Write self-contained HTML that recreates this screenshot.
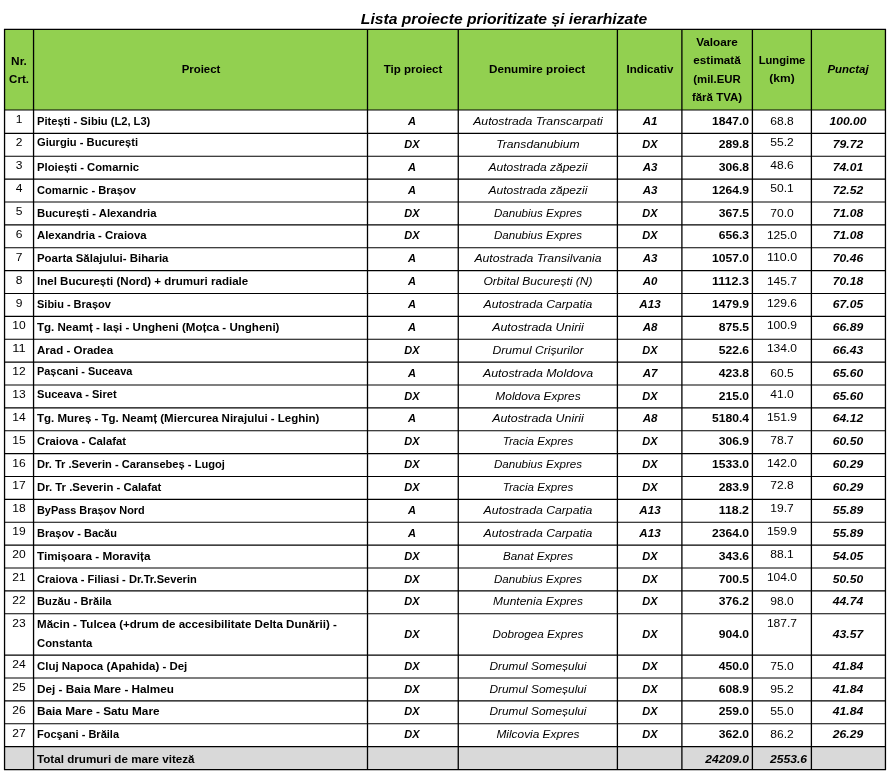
<!DOCTYPE html>
<html><head><meta charset="utf-8"><title>Lista proiecte prioritizate și ierarhizate</title>
<style>
html,body{margin:0;padding:0;background:#fff;}
body{width:891px;height:778px;position:relative;overflow:hidden;font-family:"Liberation Sans",sans-serif;color:#000;}
#g{position:absolute;left:0;top:0;}
#tx{position:absolute;left:0;top:0;width:891px;height:778px;will-change:transform;}
.t{position:absolute;white-space:nowrap;line-height:14px;height:14px;font-size:11.6px;}
.l{transform-origin:0 50%;}
.c{transform-origin:50% 50%;text-align:center;}
.r{transform-origin:100% 50%;text-align:right;}
.b{font-weight:bold;}
.i{font-style:italic;}
.bi{font-weight:bold;font-style:italic;}
.h{font-weight:bold;}
</style></head><body>

<svg id="g" width="891" height="778" viewBox="0 0 891 778">
<rect x="4.55" y="29.40" width="880.90" height="80.60" fill="#92d050"/>
<rect x="4.55" y="746.55" width="880.90" height="22.90" fill="#d9d9d9"/>
<g stroke="#000" stroke-width="1.3" fill="none">
<line x1="4.55" y1="28.90" x2="4.55" y2="769.95"/>
<line x1="33.55" y1="28.90" x2="33.55" y2="769.95"/>
<line x1="367.50" y1="28.90" x2="367.50" y2="769.95"/>
<line x1="458.25" y1="28.90" x2="458.25" y2="769.95"/>
<line x1="617.40" y1="28.90" x2="617.40" y2="769.95"/>
<line x1="681.90" y1="28.90" x2="681.90" y2="769.95"/>
<line x1="752.40" y1="28.90" x2="752.40" y2="769.95"/>
<line x1="811.40" y1="28.90" x2="811.40" y2="769.95"/>
<line x1="885.45" y1="28.90" x2="885.45" y2="769.95"/>
</g><g stroke="#000" stroke-width="1.15" fill="none">
<line x1="4.05" y1="29.40" x2="885.95" y2="29.40"/>
<line x1="4.05" y1="110.00" x2="885.95" y2="110.00"/>
<line x1="4.05" y1="133.39" x2="885.95" y2="133.39"/>
<line x1="4.05" y1="156.27" x2="885.95" y2="156.27"/>
<line x1="4.05" y1="179.14" x2="885.95" y2="179.14"/>
<line x1="4.05" y1="202.01" x2="885.95" y2="202.01"/>
<line x1="4.05" y1="224.89" x2="885.95" y2="224.89"/>
<line x1="4.05" y1="247.76" x2="885.95" y2="247.76"/>
<line x1="4.05" y1="270.63" x2="885.95" y2="270.63"/>
<line x1="4.05" y1="293.50" x2="885.95" y2="293.50"/>
<line x1="4.05" y1="316.38" x2="885.95" y2="316.38"/>
<line x1="4.05" y1="339.25" x2="885.95" y2="339.25"/>
<line x1="4.05" y1="362.12" x2="885.95" y2="362.12"/>
<line x1="4.05" y1="385.00" x2="885.95" y2="385.00"/>
<line x1="4.05" y1="407.87" x2="885.95" y2="407.87"/>
<line x1="4.05" y1="430.74" x2="885.95" y2="430.74"/>
<line x1="4.05" y1="453.62" x2="885.95" y2="453.62"/>
<line x1="4.05" y1="476.49" x2="885.95" y2="476.49"/>
<line x1="4.05" y1="499.36" x2="885.95" y2="499.36"/>
<line x1="4.05" y1="522.23" x2="885.95" y2="522.23"/>
<line x1="4.05" y1="545.11" x2="885.95" y2="545.11"/>
<line x1="4.05" y1="567.98" x2="885.95" y2="567.98"/>
<line x1="4.05" y1="590.85" x2="885.95" y2="590.85"/>
<line x1="4.05" y1="613.73" x2="885.95" y2="613.73"/>
<line x1="4.05" y1="655.05" x2="885.95" y2="655.05"/>
<line x1="4.05" y1="677.95" x2="885.95" y2="677.95"/>
<line x1="4.05" y1="700.85" x2="885.95" y2="700.85"/>
<line x1="4.05" y1="723.75" x2="885.95" y2="723.75"/>
<line x1="4.05" y1="746.65" x2="885.95" y2="746.65"/>
<line x1="4.05" y1="769.55" x2="885.95" y2="769.55"/>
</g></svg>
<div id="tx">
<div class="t c bi" style="top:8.00px;font-size:15.40px;left:304.30px;width:400px;transform:scaleX(1.0174);line-height:21px;height:21px;">Lista proiecte prioritizate și ierarhizate</div>
<div class="t c b" style="top:54.00px;left:-180.95px;width:400px;transform:scaleX(1.0195);">Nr.</div>
<div class="t c b" style="top:72.00px;left:-180.95px;width:400px;transform:scaleX(0.9917);">Crt.</div>
<div class="t c b" style="top:62.00px;left:0.83px;width:400px;transform:scaleX(0.9840);">Proiect</div>
<div class="t c b" style="top:62.00px;left:213.07px;width:400px;transform:scaleX(0.9924);">Tip proiect</div>
<div class="t c b" style="top:62.00px;left:337.43px;width:400px;transform:scaleX(1.0076);">Denumire proiect</div>
<div class="t c b" style="top:62.00px;left:449.65px;width:400px;transform:scaleX(0.9948);">Indicativ</div>
<div class="t c b" style="top:35.00px;left:517.15px;width:400px;transform:scaleX(1.0103);">Valoare</div>
<div class="t c b" style="top:53.00px;left:517.15px;width:400px;transform:scaleX(1.0125);">estimată</div>
<div class="t c b" style="top:72.00px;left:517.15px;width:400px;transform:scaleX(0.9810);">(mil.EUR</div>
<div class="t c b" style="top:90.00px;left:517.15px;width:400px;transform:scaleX(0.9902);">fără TVA)</div>
<div class="t c b" style="top:53.00px;left:581.90px;width:400px;transform:scaleX(0.9663);">Lungime</div>
<div class="t c b" style="top:71.00px;left:581.90px;width:400px;transform:scaleX(1.0345);">(km)</div>
<div class="t c bi" style="top:62.00px;left:648.12px;width:400px;transform:scaleX(0.9833);">Punctaj</div>
<div class="t c n" style="top:112.00px;left:-180.95px;width:400px;transform:scaleX(1.0386);">1</div>
<div class="t l b" style="top:114.00px;left:36.60px;transform:scaleX(0.9613);">Pitești - Sibiu (L2, L3)</div>
<div class="t c bi" style="top:114.00px;left:212.38px;width:400px;transform:scaleX(0.9563);">A</div>
<div class="t c i" style="top:114.00px;left:337.62px;width:400px;transform:scaleX(1.0544);">Autostrada Transcarpati</div>
<div class="t c bi" style="top:114.00px;left:449.60px;width:400px;transform:scaleX(0.9921);">A1</div>
<div class="t r b" style="top:114.00px;left:349.00px;width:400px;transform:scaleX(1.0438);">1847.0</div>
<div class="t c n" style="top:114.00px;left:581.70px;width:400px;transform:scaleX(1.0382);">68.8</div>
<div class="t c bi" style="top:114.00px;left:648.12px;width:400px;transform:scaleX(1.0438);">100.00</div>
<div class="t c n" style="top:135.00px;left:-180.95px;width:400px;transform:scaleX(1.0386);">2</div>
<div class="t l b" style="top:135.00px;left:36.60px;transform:scaleX(0.9628);">Giurgiu - București</div>
<div class="t c bi" style="top:137.00px;left:212.38px;width:400px;transform:scaleX(0.9486);">DX</div>
<div class="t c i" style="top:137.00px;left:337.62px;width:400px;transform:scaleX(1.0453);">Transdanubium</div>
<div class="t c bi" style="top:137.00px;left:449.60px;width:400px;transform:scaleX(0.9486);">DX</div>
<div class="t r b" style="top:137.00px;left:349.00px;width:400px;transform:scaleX(1.0449);">289.8</div>
<div class="t c n" style="top:135.00px;left:581.70px;width:400px;transform:scaleX(1.0382);">55.2</div>
<div class="t c bi" style="top:137.00px;left:648.12px;width:400px;transform:scaleX(1.0449);">79.72</div>
<div class="t c n" style="top:158.00px;left:-180.95px;width:400px;transform:scaleX(1.0386);">3</div>
<div class="t l b" style="top:160.00px;left:36.60px;transform:scaleX(0.9721);">Ploiești - Comarnic</div>
<div class="t c bi" style="top:160.00px;left:212.38px;width:400px;transform:scaleX(0.9563);">A</div>
<div class="t c i" style="top:160.00px;left:337.62px;width:400px;transform:scaleX(1.0360);">Autostrada zăpezii</div>
<div class="t c bi" style="top:160.00px;left:449.60px;width:400px;transform:scaleX(0.9921);">A3</div>
<div class="t r b" style="top:160.00px;left:349.00px;width:400px;transform:scaleX(1.0449);">306.8</div>
<div class="t c n" style="top:158.00px;left:581.70px;width:400px;transform:scaleX(1.0382);">48.6</div>
<div class="t c bi" style="top:160.00px;left:648.12px;width:400px;transform:scaleX(1.0449);">74.01</div>
<div class="t c n" style="top:181.00px;left:-180.95px;width:400px;transform:scaleX(1.0386);">4</div>
<div class="t l b" style="top:183.00px;left:36.60px;transform:scaleX(0.9591);">Comarnic - Brașov</div>
<div class="t c bi" style="top:183.00px;left:212.38px;width:400px;transform:scaleX(0.9563);">A</div>
<div class="t c i" style="top:183.00px;left:337.62px;width:400px;transform:scaleX(1.0360);">Autostrada zăpezii</div>
<div class="t c bi" style="top:183.00px;left:449.60px;width:400px;transform:scaleX(0.9921);">A3</div>
<div class="t r b" style="top:183.00px;left:349.00px;width:400px;transform:scaleX(1.0438);">1264.9</div>
<div class="t c n" style="top:181.00px;left:581.70px;width:400px;transform:scaleX(1.0382);">50.1</div>
<div class="t c bi" style="top:183.00px;left:648.12px;width:400px;transform:scaleX(1.0449);">72.52</div>
<div class="t c n" style="top:204.00px;left:-180.95px;width:400px;transform:scaleX(1.0386);">5</div>
<div class="t l b" style="top:206.00px;left:36.60px;transform:scaleX(0.9745);">București - Alexandria</div>
<div class="t c bi" style="top:206.00px;left:212.38px;width:400px;transform:scaleX(0.9486);">DX</div>
<div class="t c i" style="top:206.00px;left:337.62px;width:400px;transform:scaleX(0.9991);">Danubius Expres</div>
<div class="t c bi" style="top:206.00px;left:449.60px;width:400px;transform:scaleX(0.9486);">DX</div>
<div class="t r b" style="top:206.00px;left:349.00px;width:400px;transform:scaleX(1.0449);">367.5</div>
<div class="t c n" style="top:206.00px;left:581.70px;width:400px;transform:scaleX(1.0382);">70.0</div>
<div class="t c bi" style="top:206.00px;left:648.12px;width:400px;transform:scaleX(1.0449);">71.08</div>
<div class="t c n" style="top:227.00px;left:-180.95px;width:400px;transform:scaleX(1.0386);">6</div>
<div class="t l b" style="top:228.00px;left:36.60px;transform:scaleX(0.9772);">Alexandria - Craiova</div>
<div class="t c bi" style="top:228.00px;left:212.38px;width:400px;transform:scaleX(0.9486);">DX</div>
<div class="t c i" style="top:228.00px;left:337.62px;width:400px;transform:scaleX(0.9991);">Danubius Expres</div>
<div class="t c bi" style="top:228.00px;left:449.60px;width:400px;transform:scaleX(0.9486);">DX</div>
<div class="t r b" style="top:228.00px;left:349.00px;width:400px;transform:scaleX(1.0449);">656.3</div>
<div class="t c n" style="top:228.00px;left:581.70px;width:400px;transform:scaleX(1.0383);">125.0</div>
<div class="t c bi" style="top:228.00px;left:648.12px;width:400px;transform:scaleX(1.0449);">71.08</div>
<div class="t c n" style="top:250.00px;left:-180.95px;width:400px;transform:scaleX(1.0386);">7</div>
<div class="t l b" style="top:251.00px;left:36.60px;transform:scaleX(0.9856);">Poarta Sălajului- Biharia</div>
<div class="t c bi" style="top:251.00px;left:212.38px;width:400px;transform:scaleX(0.9563);">A</div>
<div class="t c i" style="top:251.00px;left:337.62px;width:400px;transform:scaleX(1.0521);">Autostrada Transilvania</div>
<div class="t c bi" style="top:251.00px;left:449.60px;width:400px;transform:scaleX(0.9921);">A3</div>
<div class="t r b" style="top:251.00px;left:349.00px;width:400px;transform:scaleX(1.0438);">1057.0</div>
<div class="t c n" style="top:250.00px;left:581.70px;width:400px;transform:scaleX(1.0700);">110.0</div>
<div class="t c bi" style="top:251.00px;left:648.12px;width:400px;transform:scaleX(1.0449);">70.46</div>
<div class="t c n" style="top:273.00px;left:-180.95px;width:400px;transform:scaleX(1.0386);">8</div>
<div class="t l b" style="top:274.00px;left:36.60px;transform:scaleX(0.9950);">Inel București (Nord) + drumuri radiale</div>
<div class="t c bi" style="top:274.00px;left:212.38px;width:400px;transform:scaleX(0.9563);">A</div>
<div class="t c i" style="top:274.00px;left:337.62px;width:400px;transform:scaleX(1.0383);">Orbital București (N)</div>
<div class="t c bi" style="top:274.00px;left:449.60px;width:400px;transform:scaleX(0.9921);">A0</div>
<div class="t r b" style="top:274.00px;left:349.00px;width:400px;transform:scaleX(1.0828);">1112.3</div>
<div class="t c n" style="top:274.00px;left:581.70px;width:400px;transform:scaleX(1.0383);">145.7</div>
<div class="t c bi" style="top:274.00px;left:648.12px;width:400px;transform:scaleX(1.0449);">70.18</div>
<div class="t c n" style="top:296.00px;left:-180.95px;width:400px;transform:scaleX(1.0386);">9</div>
<div class="t l b" style="top:297.00px;left:36.60px;transform:scaleX(0.9475);">Sibiu - Brașov</div>
<div class="t c bi" style="top:297.00px;left:212.38px;width:400px;transform:scaleX(0.9563);">A</div>
<div class="t c i" style="top:297.00px;left:337.62px;width:400px;transform:scaleX(1.0548);">Autostrada Carpatia</div>
<div class="t c bi" style="top:297.00px;left:449.60px;width:400px;transform:scaleX(1.0062);">A13</div>
<div class="t r b" style="top:297.00px;left:349.00px;width:400px;transform:scaleX(1.0438);">1479.9</div>
<div class="t c n" style="top:296.00px;left:581.70px;width:400px;transform:scaleX(1.0383);">129.6</div>
<div class="t c bi" style="top:297.00px;left:648.12px;width:400px;transform:scaleX(1.0449);">67.05</div>
<div class="t c n" style="top:318.00px;left:-180.95px;width:400px;transform:scaleX(1.0386);">10</div>
<div class="t l b" style="top:320.00px;left:36.60px;transform:scaleX(0.9958);">Tg. Neamț - Iași - Ungheni (Moțca - Ungheni)</div>
<div class="t c bi" style="top:320.00px;left:212.38px;width:400px;transform:scaleX(0.9563);">A</div>
<div class="t c i" style="top:320.00px;left:337.62px;width:400px;transform:scaleX(1.0699);">Autostrada Unirii</div>
<div class="t c bi" style="top:320.00px;left:449.60px;width:400px;transform:scaleX(0.9921);">A8</div>
<div class="t r b" style="top:320.00px;left:349.00px;width:400px;transform:scaleX(1.0449);">875.5</div>
<div class="t c n" style="top:318.00px;left:581.70px;width:400px;transform:scaleX(1.0383);">100.9</div>
<div class="t c bi" style="top:320.00px;left:648.12px;width:400px;transform:scaleX(1.0449);">66.89</div>
<div class="t c n" style="top:341.00px;left:-180.95px;width:400px;transform:scaleX(1.1129);">11</div>
<div class="t l b" style="top:343.00px;left:36.60px;transform:scaleX(0.9935);">Arad - Oradea</div>
<div class="t c bi" style="top:343.00px;left:212.38px;width:400px;transform:scaleX(0.9486);">DX</div>
<div class="t c i" style="top:343.00px;left:337.62px;width:400px;transform:scaleX(1.0467);">Drumul Crișurilor</div>
<div class="t c bi" style="top:343.00px;left:449.60px;width:400px;transform:scaleX(0.9486);">DX</div>
<div class="t r b" style="top:343.00px;left:349.00px;width:400px;transform:scaleX(1.0449);">522.6</div>
<div class="t c n" style="top:341.00px;left:581.70px;width:400px;transform:scaleX(1.0383);">134.0</div>
<div class="t c bi" style="top:343.00px;left:648.12px;width:400px;transform:scaleX(1.0449);">66.43</div>
<div class="t c n" style="top:364.00px;left:-180.95px;width:400px;transform:scaleX(1.0386);">12</div>
<div class="t l b" style="top:364.00px;left:36.60px;transform:scaleX(0.9421);">Pașcani - Suceava</div>
<div class="t c bi" style="top:366.00px;left:212.38px;width:400px;transform:scaleX(0.9563);">A</div>
<div class="t c i" style="top:366.00px;left:337.62px;width:400px;transform:scaleX(1.0678);">Autostrada Moldova</div>
<div class="t c bi" style="top:366.00px;left:449.60px;width:400px;transform:scaleX(0.9921);">A7</div>
<div class="t r b" style="top:366.00px;left:349.00px;width:400px;transform:scaleX(1.0449);">423.8</div>
<div class="t c n" style="top:366.00px;left:581.70px;width:400px;transform:scaleX(1.0382);">60.5</div>
<div class="t c bi" style="top:366.00px;left:648.12px;width:400px;transform:scaleX(1.0449);">65.60</div>
<div class="t c n" style="top:387.00px;left:-180.95px;width:400px;transform:scaleX(1.0386);">13</div>
<div class="t l b" style="top:387.00px;left:36.60px;transform:scaleX(0.9579);">Suceava - Siret</div>
<div class="t c bi" style="top:389.00px;left:212.38px;width:400px;transform:scaleX(0.9486);">DX</div>
<div class="t c i" style="top:389.00px;left:337.62px;width:400px;transform:scaleX(1.0255);">Moldova Expres</div>
<div class="t c bi" style="top:389.00px;left:449.60px;width:400px;transform:scaleX(0.9486);">DX</div>
<div class="t r b" style="top:389.00px;left:349.00px;width:400px;transform:scaleX(1.0449);">215.0</div>
<div class="t c n" style="top:387.00px;left:581.70px;width:400px;transform:scaleX(1.0382);">41.0</div>
<div class="t c bi" style="top:389.00px;left:648.12px;width:400px;transform:scaleX(1.0449);">65.60</div>
<div class="t c n" style="top:410.00px;left:-180.95px;width:400px;transform:scaleX(1.0386);">14</div>
<div class="t l b" style="top:411.00px;left:36.60px;transform:scaleX(0.9916);">Tg. Mureș - Tg. Neamț (Miercurea Nirajului - Leghin)</div>
<div class="t c bi" style="top:411.00px;left:212.38px;width:400px;transform:scaleX(0.9563);">A</div>
<div class="t c i" style="top:411.00px;left:337.62px;width:400px;transform:scaleX(1.0699);">Autostrada Unirii</div>
<div class="t c bi" style="top:411.00px;left:449.60px;width:400px;transform:scaleX(0.9921);">A8</div>
<div class="t r b" style="top:411.00px;left:349.00px;width:400px;transform:scaleX(1.0438);">5180.4</div>
<div class="t c n" style="top:410.00px;left:581.70px;width:400px;transform:scaleX(1.0383);">151.9</div>
<div class="t c bi" style="top:411.00px;left:648.12px;width:400px;transform:scaleX(1.0449);">64.12</div>
<div class="t c n" style="top:433.00px;left:-180.95px;width:400px;transform:scaleX(1.0386);">15</div>
<div class="t l b" style="top:434.00px;left:36.60px;transform:scaleX(0.9727);">Craiova - Calafat</div>
<div class="t c bi" style="top:434.00px;left:212.38px;width:400px;transform:scaleX(0.9486);">DX</div>
<div class="t c i" style="top:434.00px;left:337.62px;width:400px;transform:scaleX(0.9962);">Tracia Expres</div>
<div class="t c bi" style="top:434.00px;left:449.60px;width:400px;transform:scaleX(0.9486);">DX</div>
<div class="t r b" style="top:434.00px;left:349.00px;width:400px;transform:scaleX(1.0449);">306.9</div>
<div class="t c n" style="top:433.00px;left:581.70px;width:400px;transform:scaleX(1.0382);">78.7</div>
<div class="t c bi" style="top:434.00px;left:648.12px;width:400px;transform:scaleX(1.0449);">60.50</div>
<div class="t c n" style="top:456.00px;left:-180.95px;width:400px;transform:scaleX(1.0386);">16</div>
<div class="t l b" style="top:457.00px;left:36.60px;transform:scaleX(0.9593);">Dr. Tr .Severin - Caransebeș - Lugoj</div>
<div class="t c bi" style="top:457.00px;left:212.38px;width:400px;transform:scaleX(0.9486);">DX</div>
<div class="t c i" style="top:457.00px;left:337.62px;width:400px;transform:scaleX(0.9991);">Danubius Expres</div>
<div class="t c bi" style="top:457.00px;left:449.60px;width:400px;transform:scaleX(0.9486);">DX</div>
<div class="t r b" style="top:457.00px;left:349.00px;width:400px;transform:scaleX(1.0438);">1533.0</div>
<div class="t c n" style="top:456.00px;left:581.70px;width:400px;transform:scaleX(1.0383);">142.0</div>
<div class="t c bi" style="top:457.00px;left:648.12px;width:400px;transform:scaleX(1.0449);">60.29</div>
<div class="t c n" style="top:478.00px;left:-180.95px;width:400px;transform:scaleX(1.0386);">17</div>
<div class="t l b" style="top:480.00px;left:36.60px;transform:scaleX(0.9791);">Dr. Tr .Severin - Calafat</div>
<div class="t c bi" style="top:480.00px;left:212.38px;width:400px;transform:scaleX(0.9486);">DX</div>
<div class="t c i" style="top:480.00px;left:337.62px;width:400px;transform:scaleX(0.9962);">Tracia Expres</div>
<div class="t c bi" style="top:480.00px;left:449.60px;width:400px;transform:scaleX(0.9486);">DX</div>
<div class="t r b" style="top:480.00px;left:349.00px;width:400px;transform:scaleX(1.0449);">283.9</div>
<div class="t c n" style="top:478.00px;left:581.70px;width:400px;transform:scaleX(1.0382);">72.8</div>
<div class="t c bi" style="top:480.00px;left:648.12px;width:400px;transform:scaleX(1.0449);">60.29</div>
<div class="t c n" style="top:501.00px;left:-180.95px;width:400px;transform:scaleX(1.0386);">18</div>
<div class="t l b" style="top:503.00px;left:36.60px;transform:scaleX(0.9390);">ByPass Brașov Nord</div>
<div class="t c bi" style="top:503.00px;left:212.38px;width:400px;transform:scaleX(0.9563);">A</div>
<div class="t c i" style="top:503.00px;left:337.62px;width:400px;transform:scaleX(1.0548);">Autostrada Carpatia</div>
<div class="t c bi" style="top:503.00px;left:449.60px;width:400px;transform:scaleX(1.0062);">A13</div>
<div class="t r b" style="top:503.00px;left:349.00px;width:400px;transform:scaleX(1.0685);">118.2</div>
<div class="t c n" style="top:501.00px;left:581.70px;width:400px;transform:scaleX(1.0382);">19.7</div>
<div class="t c bi" style="top:503.00px;left:648.12px;width:400px;transform:scaleX(1.0449);">55.89</div>
<div class="t c n" style="top:524.00px;left:-180.95px;width:400px;transform:scaleX(1.0386);">19</div>
<div class="t l b" style="top:526.00px;left:36.60px;transform:scaleX(0.9470);">Brașov - Bacău</div>
<div class="t c bi" style="top:526.00px;left:212.38px;width:400px;transform:scaleX(0.9563);">A</div>
<div class="t c i" style="top:526.00px;left:337.62px;width:400px;transform:scaleX(1.0548);">Autostrada Carpatia</div>
<div class="t c bi" style="top:526.00px;left:449.60px;width:400px;transform:scaleX(1.0062);">A13</div>
<div class="t r b" style="top:526.00px;left:349.00px;width:400px;transform:scaleX(1.0438);">2364.0</div>
<div class="t c n" style="top:524.00px;left:581.70px;width:400px;transform:scaleX(1.0383);">159.9</div>
<div class="t c bi" style="top:526.00px;left:648.12px;width:400px;transform:scaleX(1.0449);">55.89</div>
<div class="t c n" style="top:547.00px;left:-180.95px;width:400px;transform:scaleX(1.0386);">20</div>
<div class="t l b" style="top:549.00px;left:36.60px;transform:scaleX(1.0084);">Timișoara - Moravița</div>
<div class="t c bi" style="top:549.00px;left:212.38px;width:400px;transform:scaleX(0.9486);">DX</div>
<div class="t c i" style="top:549.00px;left:337.62px;width:400px;transform:scaleX(1.0047);">Banat Expres</div>
<div class="t c bi" style="top:549.00px;left:449.60px;width:400px;transform:scaleX(0.9486);">DX</div>
<div class="t r b" style="top:549.00px;left:349.00px;width:400px;transform:scaleX(1.0449);">343.6</div>
<div class="t c n" style="top:547.00px;left:581.70px;width:400px;transform:scaleX(1.0382);">88.1</div>
<div class="t c bi" style="top:549.00px;left:648.12px;width:400px;transform:scaleX(1.0449);">54.05</div>
<div class="t c n" style="top:570.00px;left:-180.95px;width:400px;transform:scaleX(1.0386);">21</div>
<div class="t l b" style="top:572.00px;left:36.60px;transform:scaleX(0.9572);">Craiova - Filiasi - Dr.Tr.Severin</div>
<div class="t c bi" style="top:572.00px;left:212.38px;width:400px;transform:scaleX(0.9486);">DX</div>
<div class="t c i" style="top:572.00px;left:337.62px;width:400px;transform:scaleX(0.9991);">Danubius Expres</div>
<div class="t c bi" style="top:572.00px;left:449.60px;width:400px;transform:scaleX(0.9486);">DX</div>
<div class="t r b" style="top:572.00px;left:349.00px;width:400px;transform:scaleX(1.0449);">700.5</div>
<div class="t c n" style="top:570.00px;left:581.70px;width:400px;transform:scaleX(1.0383);">104.0</div>
<div class="t c bi" style="top:572.00px;left:648.12px;width:400px;transform:scaleX(1.0449);">50.50</div>
<div class="t c n" style="top:593.00px;left:-180.95px;width:400px;transform:scaleX(1.0386);">22</div>
<div class="t l b" style="top:594.00px;left:36.60px;transform:scaleX(0.9645);">Buzău - Brăila</div>
<div class="t c bi" style="top:594.00px;left:212.38px;width:400px;transform:scaleX(0.9486);">DX</div>
<div class="t c i" style="top:594.00px;left:337.62px;width:400px;transform:scaleX(1.0334);">Muntenia Expres</div>
<div class="t c bi" style="top:594.00px;left:449.60px;width:400px;transform:scaleX(0.9486);">DX</div>
<div class="t r b" style="top:594.00px;left:349.00px;width:400px;transform:scaleX(1.0449);">376.2</div>
<div class="t c n" style="top:594.00px;left:581.70px;width:400px;transform:scaleX(1.0382);">98.0</div>
<div class="t c bi" style="top:594.00px;left:648.12px;width:400px;transform:scaleX(1.0449);">44.74</div>
<div class="t c n" style="top:616.00px;left:-180.95px;width:400px;transform:scaleX(1.0386);">23</div>
<div class="t l b" style="top:617.00px;left:36.60px;transform:scaleX(0.9986);">Măcin - Tulcea (+drum de accesibilitate Delta Dunării) -</div>
<div class="t l b" style="top:636.00px;left:36.60px;transform:scaleX(0.9743);">Constanta</div>
<div class="t c bi" style="top:627.00px;left:212.38px;width:400px;transform:scaleX(0.9486);">DX</div>
<div class="t c i" style="top:627.00px;left:337.62px;width:400px;transform:scaleX(1.0069);">Dobrogea Expres</div>
<div class="t c bi" style="top:627.00px;left:449.60px;width:400px;transform:scaleX(0.9486);">DX</div>
<div class="t r b" style="top:627.00px;left:349.00px;width:400px;transform:scaleX(1.0449);">904.0</div>
<div class="t c n" style="top:616.00px;left:581.70px;width:400px;transform:scaleX(1.0383);">187.7</div>
<div class="t c bi" style="top:627.00px;left:648.12px;width:400px;transform:scaleX(1.0449);">43.57</div>
<div class="t c n" style="top:657.00px;left:-180.95px;width:400px;transform:scaleX(1.0386);">24</div>
<div class="t l b" style="top:659.00px;left:36.60px;transform:scaleX(0.9883);">Cluj Napoca (Apahida) - Dej</div>
<div class="t c bi" style="top:659.00px;left:212.38px;width:400px;transform:scaleX(0.9486);">DX</div>
<div class="t c i" style="top:659.00px;left:337.62px;width:400px;transform:scaleX(1.0244);">Drumul Someșului</div>
<div class="t c bi" style="top:659.00px;left:449.60px;width:400px;transform:scaleX(0.9486);">DX</div>
<div class="t r b" style="top:659.00px;left:349.00px;width:400px;transform:scaleX(1.0449);">450.0</div>
<div class="t c n" style="top:659.00px;left:581.70px;width:400px;transform:scaleX(1.0382);">75.0</div>
<div class="t c bi" style="top:659.00px;left:648.12px;width:400px;transform:scaleX(1.0449);">41.84</div>
<div class="t c n" style="top:680.00px;left:-180.95px;width:400px;transform:scaleX(1.0386);">25</div>
<div class="t l b" style="top:682.00px;left:36.60px;transform:scaleX(1.0121);">Dej - Baia Mare - Halmeu</div>
<div class="t c bi" style="top:682.00px;left:212.38px;width:400px;transform:scaleX(0.9486);">DX</div>
<div class="t c i" style="top:682.00px;left:337.62px;width:400px;transform:scaleX(1.0244);">Drumul Someșului</div>
<div class="t c bi" style="top:682.00px;left:449.60px;width:400px;transform:scaleX(0.9486);">DX</div>
<div class="t r b" style="top:682.00px;left:349.00px;width:400px;transform:scaleX(1.0449);">608.9</div>
<div class="t c n" style="top:682.00px;left:581.70px;width:400px;transform:scaleX(1.0382);">95.2</div>
<div class="t c bi" style="top:682.00px;left:648.12px;width:400px;transform:scaleX(1.0449);">41.84</div>
<div class="t c n" style="top:703.00px;left:-180.95px;width:400px;transform:scaleX(1.0386);">26</div>
<div class="t l b" style="top:704.00px;left:36.60px;transform:scaleX(1.0171);">Baia Mare - Satu Mare</div>
<div class="t c bi" style="top:704.00px;left:212.38px;width:400px;transform:scaleX(0.9486);">DX</div>
<div class="t c i" style="top:704.00px;left:337.62px;width:400px;transform:scaleX(1.0244);">Drumul Someșului</div>
<div class="t c bi" style="top:704.00px;left:449.60px;width:400px;transform:scaleX(0.9486);">DX</div>
<div class="t r b" style="top:704.00px;left:349.00px;width:400px;transform:scaleX(1.0449);">259.0</div>
<div class="t c n" style="top:704.00px;left:581.70px;width:400px;transform:scaleX(1.0382);">55.0</div>
<div class="t c bi" style="top:704.00px;left:648.12px;width:400px;transform:scaleX(1.0449);">41.84</div>
<div class="t c n" style="top:726.00px;left:-180.95px;width:400px;transform:scaleX(1.0386);">27</div>
<div class="t l b" style="top:727.00px;left:36.60px;transform:scaleX(0.9501);">Focşani - Brăila</div>
<div class="t c bi" style="top:727.00px;left:212.38px;width:400px;transform:scaleX(0.9486);">DX</div>
<div class="t c i" style="top:727.00px;left:337.62px;width:400px;transform:scaleX(1.0239);">Milcovia Expres</div>
<div class="t c bi" style="top:727.00px;left:449.60px;width:400px;transform:scaleX(0.9486);">DX</div>
<div class="t r b" style="top:727.00px;left:349.00px;width:400px;transform:scaleX(1.0449);">362.0</div>
<div class="t c n" style="top:727.00px;left:581.70px;width:400px;transform:scaleX(1.0382);">86.2</div>
<div class="t c bi" style="top:727.00px;left:648.12px;width:400px;transform:scaleX(1.0449);">26.29</div>
<div class="t l b" style="top:752.00px;left:36.60px;transform:scaleX(1.0038);">Total drumuri de mare viteză</div>
<div class="t r bi" style="top:752.00px;left:348.90px;width:400px;transform:scaleX(1.0430);">24209.0</div>
<div class="t r bi" style="top:752.00px;left:407.30px;width:400px;transform:scaleX(1.0438);">2553.6</div>
</div>
</body></html>
